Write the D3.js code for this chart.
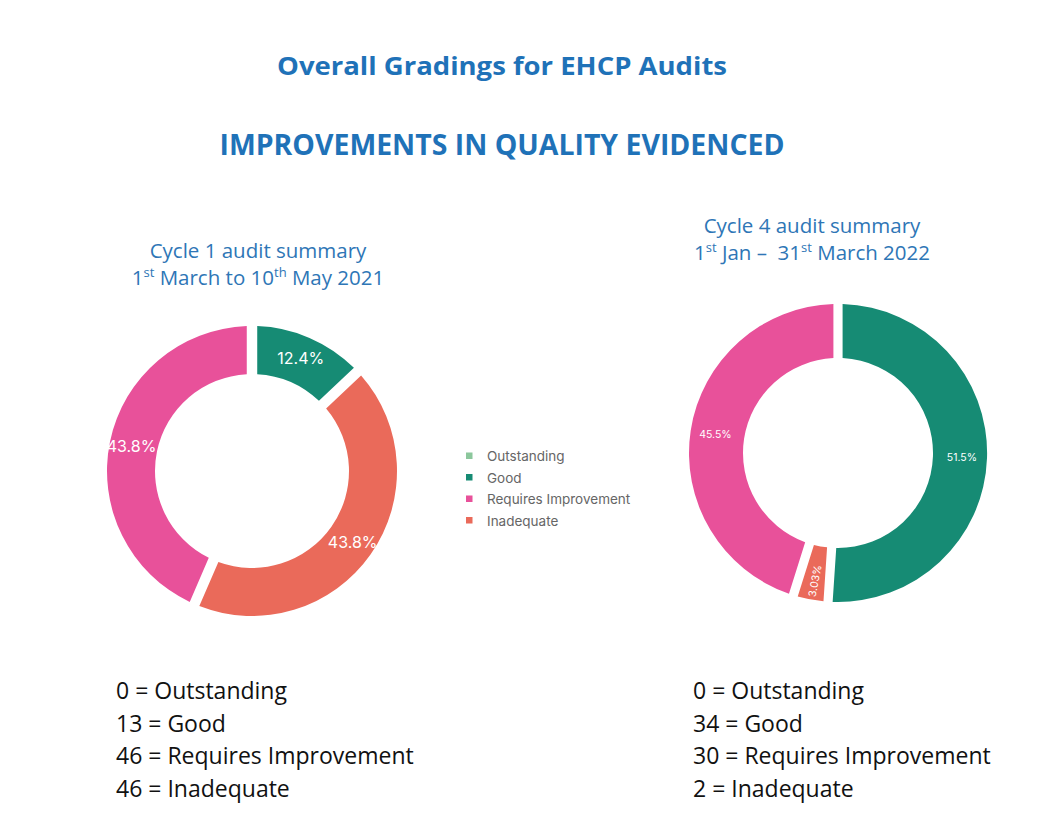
<!DOCTYPE html>
<html>
<head>
<meta charset="utf-8">
<script src="https://cdn.jsdelivr.net/npm/d3@7"></script>
<style>
  html, body { margin: 0; padding: 0; background: #ffffff; }
  svg { display: block; }
</style>
</head>
<body>
<svg id="chart" width="1041" height="832"></svg>
<script>
// ---- Data ----
const categories = ["Outstanding", "Good", "Requires Improvement", "Inadequate"];
const categoryColors = ["#8cc79c", "#168b74", "#e8519a", "#ea6a5a"];
const sliceOrder = ["Good", "Inadequate", "Requires Improvement", "Outstanding"];
const cycle1Counts = [0, 13, 46, 46];
const cycle4Counts = [0, 34, 30, 2];
const mainTitle = "Overall Gradings for EHCP Audits";
const subTitle = "IMPROVEMENTS IN QUALITY EVIDENCED";
const cycle1Heading = "Cycle 1 audit summary";
const cycle4Heading = "Cycle 4 audit summary";

const svg = d3.select("#chart");
const W = 1041, H = 832;
svg.append("rect").attr("width", W).attr("height", H).attr("fill", "#ffffff");

const blue = "#1f72b8";
const titleFont = "'Open Sans', 'Noto Sans', sans-serif";

svg.append("text").attr("x", 502).attr("y", 75)
  .attr("text-anchor", "middle").attr("font-family", titleFont)
  .attr("font-weight", 700).attr("font-size", 25).attr("fill", blue)
  .attr("textLength", 450).attr("lengthAdjust", "spacingAndGlyphs")
  .text(mainTitle);
svg.append("text").attr("x", 502).attr("y", 155)
  .attr("text-anchor", "middle").attr("font-family", titleFont)
  .attr("font-weight", 700).attr("font-size", 28).attr("fill", blue)
  .attr("textLength", 565).attr("lengthAdjust", "spacingAndGlyphs")
  .text(subTitle);

// headings with superscripts
function heading(x, y1, line1, parts) {
  const g = svg.append("g").attr("font-family", titleFont).attr("fill", "#2e76b6");
  g.append("text").attr("x", x).attr("y", y1).attr("text-anchor", "middle")
    .attr("font-size", 20.5).text(line1);
  const t = g.append("text").attr("x", x).attr("y", y1 + 27).attr("text-anchor", "middle")
    .attr("font-size", 20.5).attr("xml:space", "preserve");
  parts.forEach(p => {
    const ts = t.append("tspan").text(p.t);
    if (p.sup) ts.attr("font-size", 13).attr("dy", -8);
    if (p.after) ts.attr("dy", 8);
  });
}
heading(258, 258, cycle1Heading, [
  {t: "1"}, {t: "st", sup: true}, {t: " March to 10", after: true}, {t: "th", sup: true}, {t: " May 2021", after: true}
]);
heading(812, 233, cycle4Heading, [
  {t: "1"}, {t: "st", sup: true}, {t: " Jan \u2013\u00a0 31", after: true}, {t: "st", sup: true}, {t: " March 2022", after: true}
]);

const color = d3.scaleOrdinal().domain(categories).range(categoryColors);
const fmt = d3.format(".3r");

function donut(counts, cx, cy, rOuter, rInner, labelSize, padAngle, rotateSmall) {
  const data = sliceOrder.map(c => ({ cat: c, value: counts[categories.indexOf(c)] }))
    .filter(d => d.value > 0);
  const total = d3.sum(data, d => d.value);
  const pie = d3.pie().sort(null).value(d => d.value).padAngle(padAngle);
  const arc = d3.arc().innerRadius(rInner).outerRadius(rOuter);
  const labelArc = d3.arc().innerRadius((rInner + rOuter) / 2 + 2).outerRadius((rInner + rOuter) / 2 + 2);
  const g = svg.append("g").attr("transform", `translate(${cx},${cy})`);
  const arcs = pie(data);
  g.selectAll("path").data(arcs).join("path")
    .attr("d", arc).attr("fill", d => color(d.data.cat));
  g.selectAll("text").data(arcs).join("text")
    .attr("transform", d => {
      const [x, y] = labelArc.centroid(d);
      const frac = d.data.value / total;
      if (rotateSmall && frac < 0.05) {
        const ang = (d.startAngle + d.endAngle) / 2 * 180 / Math.PI;
        return `translate(${x},${y + 6}) rotate(${ang - 270})`;
      }
      return `translate(${x},${y})`;
    })
    .attr("text-anchor", "middle").attr("dominant-baseline", "central")
    .attr("font-family", "Inter, 'Noto Sans', sans-serif")
    .attr("font-size", labelSize).attr("fill", "#ffffff")
    .text(d => fmt(d.data.value / total * 100) + "%");
}

donut(cycle1Counts, 252, 471, 145, 97, 16, 0.06, false);
donut(cycle4Counts, 838, 453, 149, 95, 10.5, 0.052, true);

// legend
const legend = svg.append("g").attr("transform", "translate(466,456)");
categories.forEach((c, i) => {
  const row = legend.append("g").attr("transform", `translate(0,${i * 21.5})`);
  row.append("rect").attr("x", 0).attr("y", -3.5).attr("width", 6.5).attr("height", 6.5)
    .attr("fill", color(c));
  row.append("text").attr("x", 21).attr("y", 0).attr("dominant-baseline", "central")
    .attr("font-family", "Inter, 'Noto Sans', sans-serif").attr("font-size", 13.5)
    .attr("fill", "#666666").text(c);
});

// count lists
function countList(x, counts) {
  const g = svg.append("g").attr("font-family", "'Open Sans', 'Noto Sans', sans-serif")
    .attr("font-size", 23).attr("fill", "#111111");
  categories.forEach((c, i) => {
    g.append("text").attr("x", x).attr("y", 699 + i * 32.5).text(`${counts[i]} = ${c}`);
  });
}
countList(116, cycle1Counts);
countList(693, cycle4Counts);
</script>
</body>
</html>
